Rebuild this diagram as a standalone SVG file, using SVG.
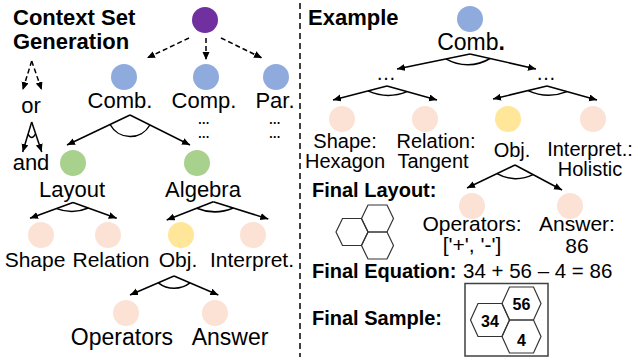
<svg xmlns="http://www.w3.org/2000/svg" width="640" height="360" viewBox="0 0 640 360">
<defs>
<marker id="ah" markerUnits="userSpaceOnUse" markerWidth="9" markerHeight="8" refX="8" refY="3.5" orient="auto">
<path d="M0,0 L8,3.5 L0,7 z" fill="#000"/>
</marker>
<style>
text{font-family:"Liberation Sans",Arial,sans-serif;fill:#000}
.h{font-weight:bold;font-size:22px}
.b{font-weight:bold;font-size:20px}
.l{font-size:21px;text-anchor:middle}
.r{font-size:20px;text-anchor:middle}
.dots{font-size:12px;font-weight:bold;text-anchor:middle;letter-spacing:0.5px}
.e{stroke:#000;stroke-width:1.5;fill:none;marker-end:url(#ah)}
.d{stroke-dasharray:5 3}
.arc{stroke:#000;stroke-width:1.5;fill:none}
.hex{stroke:#333;stroke-width:1.2;fill:none}
.purple{fill:#7030A0}
.blue{fill:#8FAADC}
.green{fill:#A9D18E}
.peach{fill:#FBE2D5}
.yellow{fill:#FFE699}
</style>
</defs>
<rect width="640" height="360" fill="#fff"/>

<g id="title-left">
<text class="h" x="13" y="25">Context Set</text>
<text class="h" x="13" y="49">Generation</text>
</g>
<g id="legend">
<text class="l" x="31" y="113" style="font-size:22px">or</text>
<text class="l" x="31" y="170" style="font-size:22px">and</text>
</g>

<line x1="300" y1="3" x2="300" y2="357" stroke="#000" stroke-width="1.5" stroke-dasharray="6 4"/>

<g id="connectors">
<line class="e d" x1="31.7" y1="61" x2="22.7" y2="90"/>
<line class="e d" x1="31.7" y1="61" x2="41.7" y2="90"/>
<line class="e" x1="31.7" y1="122" x2="22.7" y2="152"/>
<line class="e" x1="31.7" y1="122" x2="41.7" y2="152"/>
<path class="arc" d="M28,134 Q31.7,141 35.4,134"/>
<line class="e d" x1="189" y1="38" x2="147" y2="58"/>
<line class="e d" x1="206" y1="38" x2="206" y2="60"/>
<line class="e d" x1="221" y1="38" x2="262" y2="58"/>
<line class="e" x1="130" y1="115" x2="67" y2="145"/>
<line class="e" x1="130" y1="115" x2="190" y2="145"/>
<path class="arc" d="M110.1,124.5 A22.7,22.7 0 0 0 149.9,125"/>
<line class="e" x1="73" y1="202.5" x2="30" y2="218.3"/>
<line class="e" x1="73" y1="202.5" x2="116.7" y2="218.3"/>
<path class="arc" d="M56.7,208.6 A41.8,41.8 0 0 0 88.3,208"/>
<line class="e" x1="213.3" y1="201.7" x2="166.7" y2="220"/>
<line class="e" x1="213.3" y1="201.7" x2="268.3" y2="219"/>
<path class="arc" d="M196.7,208.2 A48,48 0 0 0 233.3,208"/>
<line class="e" x1="174" y1="276" x2="130" y2="295"/>
<line class="e" x1="174" y1="276" x2="218.3" y2="295"/>
<path class="arc" d="M158.3,282.8 A26,26 0 0 0 190,282.9"/>
<line class="e" x1="470" y1="54" x2="397" y2="69"/>
<line class="e" x1="470" y1="54" x2="536" y2="69"/>
<path class="arc" d="M446,58.9 A43,43 0 0 0 490,58.5"/>
<line class="e" x1="387" y1="86" x2="333" y2="100"/>
<line class="e" x1="387" y1="86" x2="437" y2="100"/>
<path class="arc" d="M368,90.9 A50,50 0 0 0 407,91.6"/>
<line class="e" x1="547" y1="86" x2="493" y2="99"/>
<line class="e" x1="547" y1="86" x2="597" y2="100"/>
<path class="arc" d="M528,90.6 A50,50 0 0 0 567,91.6"/>
<line class="e" x1="515" y1="165" x2="467" y2="188"/>
<line class="e" x1="515" y1="165" x2="562" y2="190"/>
<path class="arc" d="M497,173.6 A38,38 0 0 0 533,174.6"/>
</g>

<g id="root"><circle class="purple" cx="205" cy="20" r="13"/></g>
<g id="comb"><circle class="blue" cx="124" cy="77" r="13"/><text class="l" x="120" y="108" style="font-size:22px">Comb.</text></g>
<g id="comp"><circle class="blue" cx="206" cy="77" r="13"/><text class="l" x="204" y="107.5" style="font-size:22px">Comp.</text>
<text class="dots" x="204" y="124">…<tspan x="204" dy="13.5">…</tspan></text></g>
<g id="par"><circle class="blue" cx="276" cy="77" r="13"/><text class="l" x="275" y="107.5" style="font-size:22px">Par.</text>
<text class="dots" x="275" y="124">…<tspan x="275" dy="13.5">…</tspan></text></g>
<g id="layout"><circle class="green" cx="73" cy="163" r="13"/><text class="l" x="72" y="197" style="font-size:22px">Layout</text></g>
<g id="algebra"><circle class="green" cx="197" cy="163" r="13"/><text class="l" x="203" y="197" style="font-size:22px">Algebra</text></g>
<g id="shape"><circle class="peach" cx="41" cy="235" r="13"/><text class="l" x="35" y="267">Shape</text></g>
<g id="relation"><circle class="peach" cx="108" cy="235" r="13"/><text class="l" x="111" y="267">Relation</text></g>
<g id="obj"><circle class="yellow" cx="181" cy="235" r="13"/><text class="l" x="178" y="267">Obj.</text></g>
<g id="interpret"><circle class="peach" cx="253" cy="235" r="13"/><text class="l" x="252" y="267">Interpret.</text></g>
<g id="operators"><circle class="peach" cx="126" cy="313" r="13"/><text class="l" x="122" y="345" style="font-size:23px">Operators</text></g>
<g id="answer"><circle class="peach" cx="215" cy="313" r="13"/><text class="l" x="230" y="345" style="font-size:23px">Answer</text></g>

<g id="title-right"><text class="h" x="308" y="25">Example</text></g>
<g id="ex-comb"><circle class="blue" cx="470" cy="19" r="13"/><text class="r" x="471" y="50" style="font-size:23px">Comb<tspan font-weight="bold">.</tspan></text></g>
<g id="ex-dots-left"><text class="r" x="386" y="80">…</text></g>
<g id="ex-dots-right"><text class="r" x="546" y="80">…</text></g>
<g id="ex-shape"><circle class="peach" cx="342" cy="119" r="13"/><text class="r" x="345" y="147.5">Shape:<tspan x="345" dy="20">Hexagon</tspan></text></g>
<g id="ex-relation"><circle class="peach" cx="425" cy="119" r="13"/><text class="r" x="436" y="147.5">Relation:<tspan x="433" dy="20">Tangent</tspan></text></g>
<g id="ex-obj"><circle class="yellow" cx="508" cy="119" r="13"/><text class="r" x="512" y="157">Obj.</text></g>
<g id="ex-interpret"><circle class="peach" cx="593" cy="119" r="13"/><text class="r" x="590" y="156">Interpret.:<tspan x="590" dy="20">Holistic</tspan></text></g>
<g id="final-layout">
<text class="b" x="312" y="197">Final Layout:</text>
<polygon class="hex" points="336,232 342.5,218.5 361.5,218.5 368,232 361.5,245.5 342.5,245.5"/>
<polygon class="hex" points="361.5,218.5 368,205 387,205 393.5,218.5 387,232 368,232"/>
<polygon class="hex" points="361.5,245.5 368,232 387,232 393.5,245.5 387,259 368,259"/>
</g>
<g id="ex-operators"><circle class="peach" cx="472" cy="206" r="13"/><text class="r" x="472" y="231" style="font-size:21px">Operators:<tspan x="472" dy="21">['+', '-']</tspan></text></g>
<g id="ex-answer"><circle class="peach" cx="570" cy="206" r="13"/><text class="r" x="577" y="231" style="font-size:21px">Answer:<tspan x="577" dy="22">86</tspan></text></g>
<g id="final-equation">
<text class="b" x="312" y="278">Final Equation:</text>
<text x="463" y="278" style="font-size:20.5px">34 + 56 – 4 = 86</text>
</g>
<g id="final-sample">
<text class="b" x="312" y="325">Final Sample:</text>
<rect x="465" y="283.5" width="83" height="72.5" fill="none" stroke="#404040" stroke-width="1.5"/>
<polygon class="hex" points="470.5,320 478,303.5 502,303.5 509.5,320 502,336.5 478,336.5"/>
<polygon class="hex" points="502,303.5 509.5,287 533.5,287 541,303.5 533.5,320 509.5,320"/>
<polygon class="hex" points="502,336.5 509.5,320 533.5,320 541,336.5 533.5,353 509.5,353"/>
<text x="490" y="326.5" text-anchor="middle" font-weight="bold" font-size="16">34</text>
<text x="521.5" y="310" text-anchor="middle" font-weight="bold" font-size="16">56</text>
<text x="521.5" y="346" text-anchor="middle" font-weight="bold" font-size="16">4</text>
</g>
</svg>
